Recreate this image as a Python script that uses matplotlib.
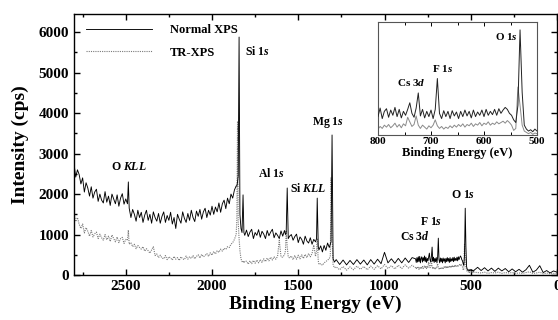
import numpy as np
import matplotlib
matplotlib.use("Agg")
import matplotlib.pyplot as plt
from matplotlib.ticker import MultipleLocator

plt.rcParams['font.family'] = ['Liberation Serif', 'DejaVu Serif']
plt.rcParams['font.weight'] = 'bold'
plt.rcParams['mathtext.fontset'] = 'custom'
plt.rcParams['mathtext.rm'] = 'Liberation Serif:bold'
plt.rcParams['mathtext.it'] = 'Liberation Serif:bold:italic'
plt.rcParams['mathtext.bf'] = 'Liberation Serif:bold'

# ---------------- data (binding energy in eV, intensity in cps) ----------------
be_a = [2800, 2790, 2780, 2770, 2760, 2750, 2740, 2730, 2720, 2710,
        2700, 2690, 2680, 2670, 2660, 2650, 2640, 2630, 2620, 2610,
        2600, 2590, 2580, 2570, 2560, 2550, 2540, 2530, 2520, 2510,
        2500, 2490, 2485, 2480, 2470, 2460, 2450, 2440, 2430, 2420,
        2410, 2400, 2390, 2380, 2370, 2360, 2350, 2340, 2330, 2320,
        2310, 2300, 2290, 2280, 2270, 2260, 2250, 2240, 2230, 2220,
        2210, 2200, 2190, 2180, 2170, 2160, 2150, 2140, 2130, 2120,
        2110, 2100, 2090, 2080, 2070, 2060, 2050, 2040, 2030, 2020,
        2010, 2000, 1990, 1980, 1970, 1960, 1950, 1940, 1930, 1920,
        1910, 1900, 1890, 1880, 1870, 1860]
normal_a = [2750, 2420, 2600, 2480, 2250, 2400, 2050, 2280, 2150, 1950,
            2180, 1900, 2050, 2120, 1820, 2000, 1850, 1780, 2060, 1800,
            1950, 1720, 2000, 1880, 1760, 1980, 1700, 1900, 2010, 1750,
            1880, 1760, 2300, 1650, 1420, 1620, 1500, 1330, 1600, 1420,
            1550, 1300, 1480, 1600, 1350, 1500, 1280, 1560, 1420, 1330,
            1520, 1280, 1450, 1560, 1300, 1470, 1350, 1550, 1260, 1420,
            1150, 1500, 1380, 1280, 1560, 1400, 1300, 1520, 1350, 1600,
            1420, 1320, 1580, 1450, 1620, 1380, 1560, 1650, 1420, 1600,
            1480, 1700, 1500, 1680, 1560, 1780, 1550, 1760, 1850, 1640,
            1900, 1760, 2000, 1900, 2100, 2200]
tr_a = [1520, 1320, 1420, 1250, 1150, 1260, 1040, 1170, 1080, 960,
        1100, 940, 1020, 1060, 900, 1010, 920, 860, 1000, 870,
        960, 830, 990, 900, 820, 940, 800, 900, 930, 780,
        880, 860, 1110, 760, 800, 700, 760, 650, 730, 680,
        640, 700, 590, 650, 600, 540, 620, 700, 480, 520,
        430, 490, 420, 400, 480, 380, 450, 420, 370, 460,
        390, 430, 360, 450, 400, 380, 470, 390, 450, 410,
        480, 400, 460, 500, 420, 510, 450, 480, 530, 460,
        550, 490, 580, 520, 600, 560, 640, 590, 660, 630,
        700, 680, 760, 800, 880, 1000]

be_b = [1856, 1852, 1848, 1843, 1838, 1832, 1826, 1820, 1815, 1810,
        1800, 1790, 1780, 1770, 1760, 1750, 1740, 1730, 1720, 1710,
        1700, 1690, 1680, 1670, 1660, 1650, 1640, 1630, 1620, 1610,
        1600, 1590, 1580, 1574, 1570, 1564, 1558, 1550,
        1540, 1530, 1520, 1510, 1500, 1490, 1480, 1470, 1460, 1450,
        1440, 1430, 1420, 1410, 1400, 1394, 1390, 1384, 1380,
        1370, 1360, 1350, 1340, 1330, 1320, 1314, 1310, 1304, 1298, 1290]
normal_b = [2200, 2300, 2450, 5880, 1500, 1150, 1050, 1980, 1050, 980,
            1110, 950, 1060, 1130, 900, 1050, 980, 1120, 930, 1080,
            1010, 900, 1100, 970, 1060, 1130, 920, 1040, 980, 900,
            1090, 960, 1100, 1000, 1040, 2150, 900, 960,
            1000, 860, 950, 1010, 800, 940, 880, 760, 960, 840,
            790, 920, 760, 880, 820, 900, 1900, 700, 620,
            720, 570, 730, 610, 790, 680, 760, 820, 3460, 400, 320]
tr_b = [1360, 3800, 1300, 900, 600, 400, 330, 350, 300, 340,
        340, 270, 350, 280, 360, 290, 370, 300, 380, 310,
        400, 330, 420, 350, 440, 370, 450, 390, 460, 860,
        450, 440, 500, 600, 1100, 700, 450, 420,
        470, 380, 480, 390, 490, 400, 500, 410, 510, 430,
        530, 450, 530, 740, 460, 600, 900, 350, 260,
        280, 240, 300, 330, 370, 400, 480, 2400, 900, 250, 180]

be_c = [1280, 1260, 1240, 1220, 1200, 1180, 1160, 1140, 1120, 1100,
        1080, 1060, 1040, 1020, 1000, 980, 960, 940, 920, 900,
        880, 860, 840]
normal_c = [380, 260, 370, 250, 360, 260, 380, 270, 370, 250,
            380, 270, 390, 280, 560, 300, 400, 290, 410, 300,
            420, 310, 430]
tr_c = [200, 130, 210, 120, 200, 130, 220, 140, 210, 130,
        220, 140, 230, 150, 260, 160, 230, 150, 240, 160,
        250, 170, 240]

be_d = [820, 816, 812, 808, 804, 800, 796, 792, 788, 784,
        780, 776, 772, 768, 764, 760, 756, 752, 748, 744,
        740, 736, 732, 728, 724, 720, 716, 712, 708, 704,
        700, 696, 692, 688, 684, 680, 676, 672, 668, 664,
        660, 656, 652, 648, 644, 640, 636, 632, 628, 624,
        620, 616, 612, 608, 604, 600, 596, 592, 588, 584,
        580, 576, 572, 568, 564, 560, 556, 552, 548, 544,
        540, 536, 532, 528, 524, 520, 516, 512, 508, 504,
        500, 496, 492, 488, 484, 480]
normal_d = [400, 310, 430, 320, 450, 330, 460, 300, 410, 450,
            320, 430, 350, 470, 330, 440, 310, 410, 350, 440,
            540, 380, 320, 460, 690, 340, 440, 310, 410, 330,
            430, 300, 440, 910, 380, 300, 420, 330, 410, 300,
            420, 340, 400, 300, 410, 330, 430, 340, 410, 310,
            430, 330, 400, 350, 430, 330, 440, 350, 410, 360,
            440, 350, 450, 380, 430, 470, 440, 380, 350, 280,
            240, 500, 1650, 700, 200, 140, 110, 130, 100, 140,
            110, 130, 100, 120, 90, 120]
tr_d = [180, 150, 200, 160, 190, 140, 180, 150, 200, 170,
        210, 160, 190, 230, 170, 210, 160, 220, 190, 320,
        250, 180, 210, 340, 200, 150, 200, 170, 140, 190,
        160, 200, 280, 190, 150, 180, 140, 170, 150, 190,
        160, 200, 170, 210, 180, 220, 170, 210, 190, 230,
        180, 220, 200, 240, 190, 230, 210, 250, 200, 230,
        210, 250, 220, 240, 260, 230, 270, 240, 200, 120,
        150, 780, 500, 200, 110, 90, 70, 90, 60, 80,
        70, 90, 60, 80, 60, 70]

be_e = [460, 440, 420, 400, 380, 360, 340, 320, 300, 280,
        260, 240, 220, 200, 180, 160, 140, 120, 100, 80,
        60, 40, 20, 0]
normal_e = [190, 110, 180, 100, 170, 90, 170, 100, 160, 80,
            150, 80, 140, 70, 130, 240, 70, 120, 230, 60,
            110, 50, 100, 70]
tr_e = [60, 50, 70, 40, 60, 50, 70, 40, 60, 50,
        60, 40, 50, 40, 60, 80, 40, 50, 70, 30,
        50, 30, 40, 40]

series_labels = ["Normal XPS", "TR-XPS"]

be = np.array(be_a + be_b + be_c + be_d + be_e, dtype=float)
normal = np.array(normal_a + normal_b + normal_c + normal_d + normal_e, dtype=float)
tr = np.array(tr_a + tr_b + tr_c + tr_d + tr_e, dtype=float)
n = min(len(be), len(normal), len(tr))
if not (len(be) == len(normal) == len(tr)):
    print("length mismatch", len(be), len(normal), len(tr))
be, normal, tr = be[:n], normal[:n], tr[:n]

# ---------------- figure ----------------
fig = plt.figure(figsize=(5.58, 3.2), dpi=100)
ax = fig.add_axes([74/558, 1-275/320, 483/558, 261/320])

ax.plot(be, tr, color='#7a7a7a', lw=0.8, ls=(0, (1, 1)), label=series_labels[1], zorder=2)
ax.plot(be, normal, color='black', lw=0.65, label=series_labels[0], zorder=3)

ax.set_xlim(2800, 0)
ax.set_ylim(0, 6450)
ax.xaxis.set_major_locator(MultipleLocator(500))
ax.xaxis.set_minor_locator(MultipleLocator(250))
ax.yaxis.set_major_locator(MultipleLocator(1000))
ax.yaxis.set_minor_locator(MultipleLocator(500))
ax.tick_params(which='both', direction='in', top=True, right=True, width=1.0)
ax.tick_params(which='major', length=4, labelsize=11)
ax.tick_params(which='minor', length=2.5)
for lab in ax.get_xticklabels() + ax.get_yticklabels():
    lab.set_fontweight('bold')
for s in ax.spines.values():
    s.set_linewidth(1.0)
ax.set_xlabel("Binding Energy (eV)", fontsize=14, fontweight='bold', labelpad=2)
ax.set_ylabel("Intensity (cps)", fontsize=14, fontweight='bold', labelpad=7)

h, l = ax.get_legend_handles_labels()
leg = ax.legend(h[::-1], l[::-1], loc='upper left', bbox_to_anchor=(0.012, 0.985),
                frameon=False, handlelength=5.3, handletextpad=1.4, labelspacing=0.85,
                borderpad=0, prop={'family': 'Liberation Serif', 'weight': 'bold', 'size': 9})

fs = 8.5
ann = [("Si 1$\\it{s}$", 1808, 5530, 'left'),
       ("O $\\it{KLL}$", 2483, 2670, 'center'),
       ("Al 1$\\it{s}$", 1657, 2520, 'center'),
       ("Si $\\it{KLL}$", 1445, 2150, 'center'),
       ("Mg 1$\\it{s}$", 1326, 3780, 'center'),
       ("F 1$\\it{s}$", 727, 1310, 'center'),
       ("Cs 3$\\it{d}$", 826, 940, 'center'),
       ("O 1$\\it{s}$", 547, 1976, 'center')]
for t, x, y, h_ in ann:
    ax.text(x, y, t, fontsize=fs, fontweight='bold', ha=h_, va='center')

# ---------------- inset ----------------
ins = fig.add_axes([378/558, 1-135/320, 159/558, 113/320])
ins.plot(be, tr, color='#8a8a8a', lw=0.7, zorder=2)
ins.plot(be, normal, color='#222222', lw=0.7, zorder=3)
ins.set_xlim(800, 500)
ins.set_ylim(50, 1770)
ins.xaxis.set_major_locator(MultipleLocator(100))
ins.xaxis.set_minor_locator(MultipleLocator(50))
ins.set_yticks([])
ins.tick_params(which='both', direction='in', top=True, width=0.7)
ins.tick_params(which='major', length=3, labelsize=8, pad=1.5)
ins.tick_params(which='minor', length=2)
for lab in ins.get_xticklabels():
    lab.set_fontweight('bold')
for s in ins.spines.values():
    s.set_linewidth(0.8)
    s.set_color('#555555')
ins.set_xlabel("Binding Energy (eV)", fontsize=9, fontweight='bold', labelpad=1)
ins.text(557, 1543, "O 1$\\it{s}$", fontsize=8, fontweight='bold', ha='center', va='center')
ins.text(679, 1056, "F 1$\\it{s}$", fontsize=8, fontweight='bold', ha='center', va='center')
ins.text(738, 842, "Cs 3$\\it{d}$", fontsize=8, fontweight='bold', ha='center', va='center')

fig.savefig("out.png", dpi=100)
